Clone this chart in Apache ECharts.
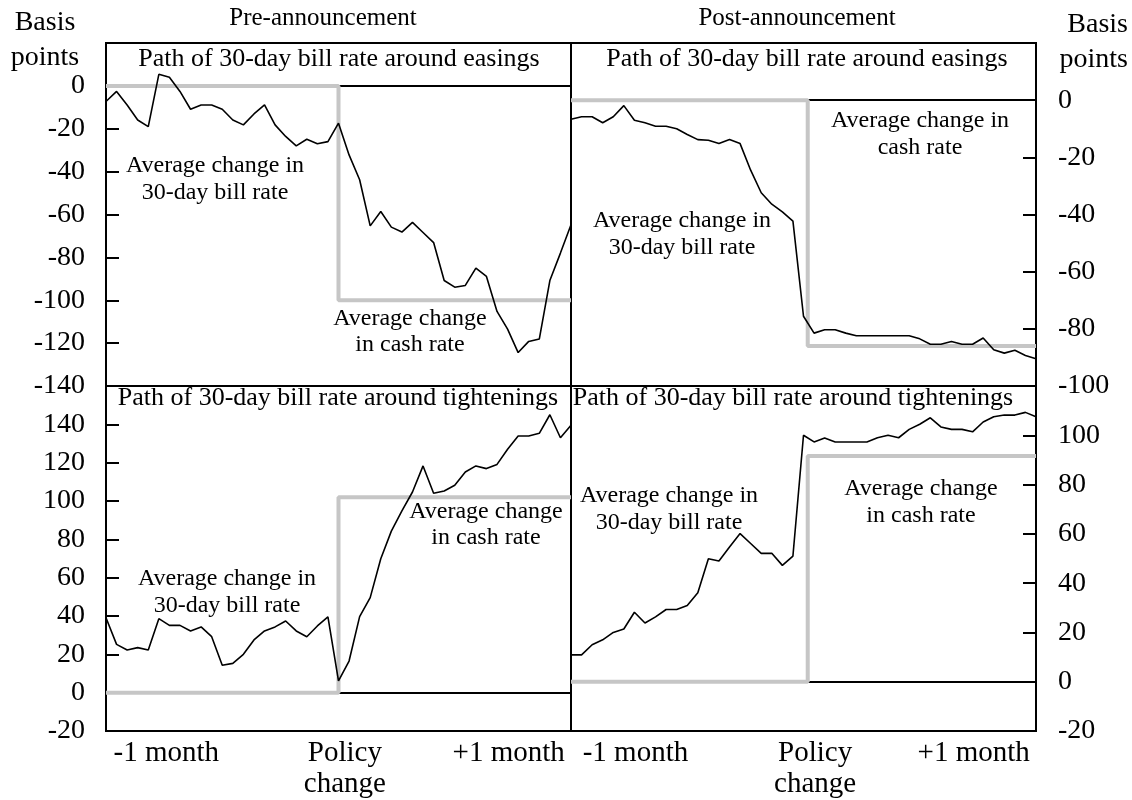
<!DOCTYPE html>
<html>
<head>
<meta charset="utf-8">
<script src="https://cdn.jsdelivr.net/npm/echarts@6/dist/echarts.min.js"></script>
<style>
html, body { margin: 0; padding: 0; background: #fff; }
#main { width: 1132px; height: 800px; }
</style>
</head>
<body>
<div id="main"></div>
<script>
// trading days around the policy change (0 = announcement day)
var days = [-22, -21, -20, -19, -18, -17, -16, -15, -14, -13, -12, -11, -10, -9, -8, -7, -6, -5, -4, -3, -2, -1,
    0, 1, 2, 3, 4, 5, 6, 7, 8, 9, 10, 11, 12, 13, 14, 15, 16, 17, 18, 19, 20, 21, 22];

// 30-day bill rate paths (basis points)
var easePre = [-7.3, -2.6, -8.9, -15.9, -19.0, 5.4, 4.0, -2.6, -10.9, -8.9, -8.9, -10.9, -15.9, -18.2, -13.1,
    -8.9, -18.2, -23.6, -28.0, -24.9, -27.0, -26.0, -17.4, -32.2, -43.8, -65.3, -58.6, -65.9, -68.2, -63.7,
    -68.4, -73.1, -90.8, -93.9, -93.1, -85.0, -88.9, -105.2, -113.5, -124.4, -119.2, -118.1, -90.8, -78.0, -64.8];
var easePost = [-6.7, -5.8, -5.8, -7.9, -5.8, -1.9, -7.0, -7.9, -9.1, -9.1, -10.0, -12.0, -13.8, -14.0, -15.2,
    -13.8, -15.2, -24.5, -32.4, -36.4, -39.1, -42.3, -75.6, -81.5, -80.3, -80.3, -81.5, -82.4, -82.4, -82.4,
    -82.4, -82.4, -82.4, -83.5, -85.4, -85.4, -84.4, -85.4, -85.4, -83.2, -87.3, -88.5, -87.5, -89.3, -90.5];
var tightPre = [39.1, 25.2, 22.3, 23.5, 22.3, 38.6, 35.1, 35.1, 32.2, 34.3, 29.2, 14.3, 15.3, 20.0, 27.5,
    32.2, 34.3, 37.4, 32.2, 29.2, 34.8, 39.5, 6.1, 16.5, 39.7, 49.6, 69.9, 84.3, 94.8, 104.7,
    118.3, 104.0, 105.2, 108.2, 115.1, 118.3, 116.9, 119.1, 127.0, 133.9, 133.9, 135.3, 145.0, 133.0, 139.5];
var tightPost = [10.9, 10.9, 15.0, 17.0, 20.0, 21.4, 28.2, 23.8, 26.3, 29.3, 29.3, 30.9, 36.1, 49.9, 49.0,
    54.7, 60.1, 56.1, 52.1, 52.1, 47.2, 51.0, 100.0, 97.3, 98.9, 97.3, 97.3, 97.3, 97.3, 99.0,
    100.0, 99.0, 102.4, 104.5, 107.1, 103.4, 102.4, 102.4, 101.4, 105.4, 107.5, 108.2, 108.2, 109.3, 107.5];

// average change in cash rate: level before / after, and the day the step happens
// order: easings pre, easings post, tightenings pre, tightenings post
var cashBefore = [0, 0, 0, 0];
var cashAfter = [-100, -86, 102, 91.6];
var cashStepDay = [0, 0.4, 0, 0.4];

var xLabels = ['-1 month', 'Policy\nchange', '+1 month'];
var xLabelDaysPre = [-16.3, 0.6, 16.1];
var xLabelDaysPost = [-15.9, 1.1, 16.1];

var serif = '"Liberation Serif", "Times New Roman", serif';

var panels = [
    { grid: { left: 106, top: 43, width: 465, height: 343 }, side: 'left', min: -140, max: 20, data: easePre, labels: null },
    { grid: { left: 571, top: 43, width: 465, height: 343 }, side: 'right', min: -100, max: 20, data: easePost, labels: null },
    { grid: { left: 106, top: 386, width: 465, height: 345 }, side: 'left', min: -20, max: 160, data: tightPre, labels: xLabelDaysPre },
    { grid: { left: 571, top: 386, width: 465, height: 345 }, side: 'right', min: -20, max: 120, data: tightPost, labels: xLabelDaysPost }
];

var grids = [], xAxes = [], yAxes = [], series = [];

panels.forEach(function (p, i) {
    grids.push({
        show: true, left: p.grid.left, top: p.grid.top, width: p.grid.width, height: p.grid.height,
        borderColor: '#000', borderWidth: 2, backgroundColor: '#fff'
    });
    var lab = p.labels;
    xAxes.push({
        gridIndex: i, type: 'value', min: -22, max: 22,
        axisLine: { show: false, onZero: false }, axisTick: { show: false }, splitLine: { show: false },
        axisLabel: lab ? {
            show: true, customValues: lab, margin: 7, color: '#000',
            fontFamily: serif, fontSize: 29, lineHeight: 31,
            formatter: function (v) {
                var k = 0;
                lab.forEach(function (d, j) { if (Math.abs(d - v) < Math.abs(lab[k] - v)) k = j; });
                return xLabels[k];
            }
        } : { show: false }
    });
    yAxes.push({
        gridIndex: i, type: 'value', position: p.side, min: p.min, max: p.max, interval: 20,
        axisLine: { show: false, onZero: false }, splitLine: { show: false },
        axisTick: { show: true, inside: true, length: 13, lineStyle: { color: '#000', width: 2 } },
        axisLabel: {
            show: true, showMaxLabel: false, color: '#000', fontFamily: serif, fontSize: 28,
            margin: p.side === 'left' ? 21 : 22
        }
    });
    var s = cashStepDay[i];
    series.push({
        type: 'line', xAxisIndex: i, yAxisIndex: i, z: 3, silent: true, animation: false,
        symbol: 'none', lineStyle: { color: '#c6c6c6', width: 4 },
        data: [[days[0], cashBefore[i]], [s, cashBefore[i]], [s, cashAfter[i]], [days[days.length - 1], cashAfter[i]]]
    });
    series.push({
        type: 'line', xAxisIndex: i, yAxisIndex: i, z: 4, silent: true, animation: false,
        symbol: 'none', lineStyle: { color: '#000', width: 1.6 },
        data: p.data.map(function (v, j) { return [days[j], v]; }),
        markLine: {
            z: 1, silent: true, symbol: 'none', animation: false, label: { show: false },
            lineStyle: { color: '#000', width: 2, type: 'solid' },
            data: [{ yAxis: 0 }]
        }
    });
});

function txt(text, x, y, size, align, lh) {
    return {
        type: 'text', z: 100, silent: true,
        style: {
            text: text, x: x, y: y, fill: '#000', font: size + 'px ' + serif,
            textAlign: align || 'center', textVerticalAlign: 'middle', lineHeight: lh || size
        }
    };
}

var graphics = [
    txt('Pre-announcement', 323, 18, 25),
    txt('Post-announcement', 797, 18, 25),
    txt('Basis\npoints', 45, 40, 28, 'center', 35),
    txt('Basis\npoints', 1128, 42, 28, 'right', 35),
    txt('Path of 30-day bill rate around easings', 339, 59, 26),
    txt('Path of 30-day bill rate around easings', 807, 59, 26),
    txt('Path of 30-day bill rate around tightenings', 338, 398, 26),
    txt('Path of 30-day bill rate around tightenings', 793, 398, 26),
    txt('Average change in\n30-day bill rate', 215, 179, 24, 'center', 27),
    txt('Average change\nin cash rate', 410, 332, 24, 'center', 26),
    txt('Average change in\ncash rate', 920, 134, 24, 'center', 27),
    txt('Average change in\n30-day bill rate', 682, 234, 24, 'center', 27),
    txt('Average change in\n30-day bill rate', 227, 592, 24, 'center', 27),
    txt('Average change\nin cash rate', 486, 525, 24, 'center', 26),
    txt('Average change in\n30-day bill rate', 669, 509, 24, 'center', 27),
    txt('Average change\nin cash rate', 921, 502, 24, 'center', 27)
];

var chart = echarts.init(document.getElementById('main'));
chart.setOption({
    backgroundColor: '#fff',
    animation: false,
    grid: grids,
    xAxis: xAxes,
    yAxis: yAxes,
    series: series,
    graphic: graphics
});
</script>
</body>
</html>
